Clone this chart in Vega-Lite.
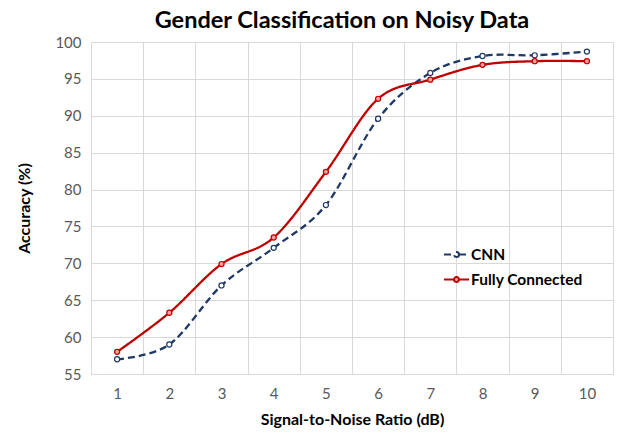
{
  "$schema": "https://vega.github.io/schema/vega-lite/v6.json",
  "width": 522,
  "height": 332,
  "autosize": {"type": "none"},
  "padding": {"left": 91, "top": 42, "right": 9, "bottom": 67},
  "background": "white",
  "title": {
    "text": "Gender Classification on Noisy Data",
    "font": "Lato",
    "fontSize": 23.5,
    "fontWeight": "bold",
    "color": "#000000",
    "anchor": "middle",
    "dx": -10,
    "offset": 3
  },
  "config": {
    "view": {"stroke": "#d9d9d9", "strokeWidth": 1},
    "font": "Lato"
  },
  "data": {
    "values": [
      {"snr": "1", "model": "CNN", "acc": 57.0},
      {"snr": "2", "model": "CNN", "acc": 59.0},
      {"snr": "3", "model": "CNN", "acc": 67.0},
      {"snr": "4", "model": "CNN", "acc": 72.1},
      {"snr": "5", "model": "CNN", "acc": 77.9},
      {"snr": "6", "model": "CNN", "acc": 89.6},
      {"snr": "7", "model": "CNN", "acc": 95.8},
      {"snr": "8", "model": "CNN", "acc": 98.1},
      {"snr": "9", "model": "CNN", "acc": 98.2},
      {"snr": "10", "model": "CNN", "acc": 98.7},
      {"snr": "1", "model": "Fully Connected", "acc": 58.0},
      {"snr": "2", "model": "Fully Connected", "acc": 63.3},
      {"snr": "3", "model": "Fully Connected", "acc": 69.9},
      {"snr": "4", "model": "Fully Connected", "acc": 73.5},
      {"snr": "5", "model": "Fully Connected", "acc": 82.4},
      {"snr": "6", "model": "Fully Connected", "acc": 92.3},
      {"snr": "7", "model": "Fully Connected", "acc": 94.9},
      {"snr": "8", "model": "Fully Connected", "acc": 96.9},
      {"snr": "9", "model": "Fully Connected", "acc": 97.4},
      {"snr": "10", "model": "Fully Connected", "acc": 97.4}
    ]
  },
  "encoding": {
    "x": {
      "field": "snr",
      "type": "ordinal",
      "sort": null,
      "bandPosition": 0.5,
      "scale": {"type": "band", "paddingInner": 0, "paddingOuter": 0},
      "axis": {
        "title": "Signal-to-Noise Ratio (dB)",
        "titleFont": "Lato",
        "titleFontSize": 16,
        "titleFontWeight": "bold",
        "titleColor": "#000000",
        "titlePadding": 10,
        "labelAngle": 0,
        "labelFont": "Lato",
        "labelFontSize": 15,
        "labelColor": "#595959",
        "labelPadding": 12,
        "ticks": false,
        "domain": false,
        "grid": true,
        "gridColor": "#d9d9d9",
        "tickBand": "extent"
      }
    },
    "y": {
      "field": "acc",
      "type": "quantitative",
      "scale": {"domain": [55, 100], "nice": false, "zero": false},
      "axis": {
        "title": "Accuracy (%)",
        "titleFont": "Lato",
        "titleFontSize": 16,
        "titleFontWeight": "bold",
        "titleColor": "#000000",
        "titlePadding": 22,
        "values": [55, 60, 65, 70, 75, 80, 85, 90, 95, 100],
        "labelFont": "Lato",
        "labelFontSize": 15,
        "labelColor": "#595959",
        "labelPadding": 10,
        "ticks": false,
        "domain": false,
        "grid": true,
        "gridColor": "#d9d9d9"
      }
    }
  },
  "layer": [
    {
      "mark": {"type": "line", "interpolate": "cardinal", "tension": 0, "strokeWidth": 2.3},
      "encoding": {
        "color": {
          "field": "model",
          "type": "nominal",
          "scale": {"domain": ["CNN", "Fully Connected"], "range": ["#1F3864", "#C00000"]},
          "legend": {
            "title": null,
            "orient": "none",
            "legendX": 352,
            "legendY": 199,
            "symbolType": "M-1,0H-0.2M0.2,0H1M0.2,0A0.2,0.2,0,1,1,-0.2,0A0.2,0.2,0,1,1,0.2,0",
            "symbolSize": 625,
            "symbolStrokeWidth": 2,
            "labelFont": "Lato",
            "labelFontSize": 15.5,
            "labelFontWeight": "bold",
            "labelColor": "#000000",
            "labelOffset": 1,
            "rowPadding": 3
          }
        },
        "strokeDash": {
          "field": "model",
          "type": "nominal",
          "scale": {"domain": ["CNN", "Fully Connected"], "range": [[7, 4], [1, 0]]},
          "legend": null
        }
      }
    },
    {
      "mark": {"type": "point", "shape": "circle", "size": 26, "strokeWidth": 1.2, "opacity": 1},
      "encoding": {
        "stroke": {
          "field": "model",
          "type": "nominal",
          "scale": {"domain": ["CNN", "Fully Connected"], "range": ["#1F3864", "#C00000"]},
          "legend": null
        },
        "fill": {
          "field": "model",
          "type": "nominal",
          "scale": {"domain": ["CNN", "Fully Connected"], "range": ["#ffffff", "#f2a0a0"]},
          "legend": null
        }
      }
    }
  ]
}
